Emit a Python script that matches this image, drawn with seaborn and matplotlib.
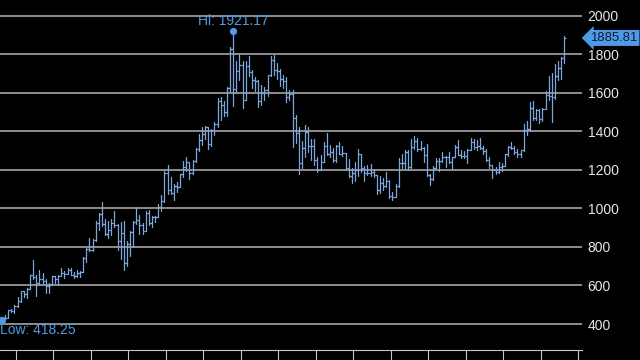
import numpy as np
import pandas as pd
import matplotlib
matplotlib.use("Agg")
import matplotlib.pyplot as plt
import matplotlib.transforms as mtransforms
import seaborn as sns

# Monthly bars, Jul 2005 .. Jul 2020
opens = [435, 429, 433, 473, 470, 495,
         517, 569, 556, 582, 654, 643, 613, 633, 625, 599, 605, 647,
         632, 650, 665, 662, 681, 655, 650, 665, 672, 743, 790, 783,
         834, 923, 972, 917, 865, 886, 926, 913, 833, 871, 718, 814,
         878, 928, 942, 916, 883, 979, 926, 954, 955, 1008, 1040, 1182,
         1096, 1081, 1118, 1113, 1180, 1213, 1244, 1182, 1248, 1307, 1357, 1386,
         1421, 1333, 1410, 1439, 1556, 1536, 1500, 1628, 1826, 1620, 1715, 1746,
         1565, 1740, 1711, 1669, 1664, 1559, 1598, 1615, 1692, 1773, 1719, 1713,
         1675, 1664, 1579, 1597, 1472, 1393, 1234, 1313, 1396, 1327, 1323, 1253,
         1202, 1244, 1326, 1284, 1296, 1250, 1327, 1283, 1287, 1208, 1171, 1183,
         1199, 1283, 1212, 1183, 1183, 1190, 1172, 1095, 1133, 1115, 1142, 1065,
         1061, 1118, 1238, 1234, 1293, 1215, 1322, 1351, 1309, 1316, 1277, 1173,
         1151, 1211, 1249, 1249, 1268, 1269, 1242, 1269, 1322, 1280, 1271, 1275,
         1303, 1345, 1318, 1325, 1315, 1299, 1253, 1224, 1201, 1192, 1215, 1222,
         1282, 1321, 1313, 1292, 1284, 1305, 1409, 1414, 1520, 1472, 1513, 1464,
         1517, 1589, 1585, 1577, 1687, 1728, 1781]
highs = [438, 448, 474, 479, 497, 541,
         572, 574, 585, 654, 730, 655, 680, 663, 632, 612, 647, 650,
         656, 690, 673, 693, 693, 672, 682, 677, 747, 795, 845, 842,
         933, 975, 1034, 947, 937, 943, 988, 920, 929, 934, 830, 885,
         937, 1006, 964, 926, 985, 990, 960, 963, 1025, 1070, 1195, 1227,
         1162, 1127, 1139, 1180, 1249, 1265, 1244, 1251, 1313, 1388, 1424, 1431,
         1424, 1411, 1447, 1575, 1577, 1557, 1632, 1840, 1921.17, 1764, 1803, 1765,
         1764, 1791, 1718, 1681, 1668, 1640, 1633, 1693, 1790, 1796, 1755, 1726,
         1694, 1684, 1617, 1617, 1488, 1425, 1348, 1434, 1424, 1361, 1361, 1267,
         1280, 1345, 1392, 1331, 1315, 1332, 1345, 1323, 1290, 1255, 1208, 1239,
         1307, 1284, 1220, 1224, 1232, 1205, 1175, 1170, 1157, 1191, 1146, 1088,
         1125, 1263, 1283, 1304, 1303, 1362, 1375, 1367, 1352, 1317, 1337, 1180,
         1220, 1264, 1261, 1296, 1271, 1296, 1270, 1331, 1358, 1306, 1299, 1307,
         1366, 1362, 1356, 1366, 1326, 1309, 1265, 1225, 1214, 1243, 1237, 1284,
         1326, 1347, 1324, 1310, 1306, 1439, 1452, 1555, 1557, 1517, 1516, 1524,
         1611, 1689, 1704, 1748, 1765, 1789, 1897]
lows = [418.25, 425, 432, 460, 456, 489,
        516, 538, 537, 581, 636, 543, 605, 610, 561, 560, 603, 613,
        604, 648, 637, 661, 652, 639, 646, 642, 668, 722, 780, 780,
        832, 888, 907, 861, 849, 860, 906, 786, 740, 681, 700, 753,
        801, 919, 867, 866, 882, 913, 905, 929, 954, 989, 1034, 1076,
        1075, 1045, 1088, 1111, 1163, 1195, 1155, 1179, 1242, 1300, 1330, 1360,
        1308, 1327, 1381, 1423, 1462, 1478, 1478, 1606, 1532, 1600, 1669, 1523,
        1563, 1687, 1627, 1612, 1527, 1540, 1564, 1582, 1687, 1692, 1672, 1636,
        1626, 1555, 1562, 1321, 1338, 1180, 1208, 1270, 1292, 1251, 1227, 1187,
        1200, 1239, 1277, 1268, 1240, 1240, 1281, 1273, 1204, 1161, 1131, 1142,
        1167, 1191, 1142, 1175, 1170, 1162, 1077, 1080, 1098, 1110, 1052, 1046,
        1061, 1111, 1208, 1207, 1199, 1208, 1310, 1301, 1303, 1241, 1171, 1123,
        1146, 1208, 1194, 1241, 1214, 1237, 1205, 1267, 1277, 1261, 1264, 1236,
        1302, 1307, 1303, 1310, 1282, 1245, 1211, 1160, 1180, 1182, 1196, 1221,
        1275, 1311, 1281, 1266, 1267, 1301, 1382, 1400, 1459, 1459, 1445, 1454,
        1517, 1563, 1451, 1567, 1670, 1671, 1757]
closes = [429, 433, 473, 470, 495, 517,
          569, 556, 582, 654, 643, 613, 633, 625, 599, 605, 647, 632,
          650, 665, 662, 681, 655, 650, 665, 672, 743, 790, 783, 834,
          923, 972, 917, 865, 886, 926, 913, 833, 871, 718, 814, 878,
          928, 942, 916, 883, 979, 926, 954, 955, 1008, 1040, 1182, 1096,
          1081, 1118, 1113, 1180, 1213, 1244, 1182, 1248, 1307, 1357, 1386, 1421,
          1333, 1410, 1439, 1556, 1536, 1500, 1628, 1826, 1620, 1715, 1746, 1565,
          1740, 1711, 1669, 1664, 1559, 1598, 1615, 1692, 1773, 1719, 1713, 1675,
          1664, 1579, 1597, 1472, 1393, 1234, 1313, 1396, 1327, 1323, 1253, 1202,
          1244, 1326, 1284, 1296, 1250, 1327, 1283, 1287, 1208, 1171, 1183, 1199,
          1283, 1212, 1183, 1183, 1190, 1172, 1095, 1133, 1115, 1142, 1065, 1061,
          1118, 1238, 1234, 1293, 1215, 1322, 1351, 1309, 1316, 1277, 1173, 1151,
          1211, 1249, 1249, 1268, 1269, 1242, 1269, 1322, 1280, 1271, 1275, 1303,
          1345, 1318, 1325, 1315, 1299, 1253, 1224, 1201, 1192, 1215, 1222, 1282,
          1321, 1313, 1292, 1284, 1305, 1409, 1414, 1520, 1472, 1513, 1464, 1517,
          1589, 1585, 1577, 1687, 1728, 1781, 1885.81]
y_ticks = [400, 600, 800, 1000, 1200, 1400, 1600, 1800, 2000]
hi_label = "Hi: 1921.17"
low_label = "Low: 418.25"
last_label = "1885.81"

BAR = "#7da7dd"
ACCENT = "#4d9be6"

sns.set_theme(style="dark")
plt.rcParams["font.family"] = ["Liberation Sans", "DejaVu Sans"]

n = len(closes)
idx = np.arange(n)
df = pd.DataFrame({"x": np.repeat(idx, 2),
                   "y": np.ravel(np.column_stack([highs, lows])),
                   "u": np.repeat(idx, 2)})

fig = plt.figure(figsize=(6.4, 3.6), dpi=100, facecolor="black")
ax = fig.add_axes([0.0, 0.0278, 0.909, 0.9722])
ax.set_facecolor("black")

sns.lineplot(data=df, x="x", y="y", units="u", estimator=None, sort=False,
             color=BAR, lw=0.9, ax=ax, legend=False)
ax.hlines(opens, idx - 0.55, idx, color=BAR, lw=0.9)
ax.hlines(closes, idx, idx + 0.55, color=BAR, lw=0.9)

ax.set_xlim(-0.64, 185.6)
ax.set_ylim(265, 2083)
ax.set_xlabel("")
ax.set_ylabel("")

ax.set_yticks(y_ticks)
ax.set_yticklabels([str(v) for v in y_ticks])
ax.yaxis.tick_right()
ax.tick_params(axis="y", length=0, pad=4.3, labelsize=10, labelcolor="#e6e6e6")
ax.grid(axis="y", color="#b4b4b4", lw=1.1)
ax.grid(axis="x", visible=False)

xt = [4.48 + 12 * k for k in range(16)]
ax.set_xticks(xt)
ax.set_xticklabels([])
ax.tick_params(axis="x", bottom=True, direction="out", length=7.5, width=0.8,
               color="#c8c8c8")

for s in ["top", "left", "right"]:
    ax.spines[s].set_visible(False)
ax.spines["bottom"].set_color("#c8c8c8")
ax.spines["bottom"].set_linewidth(0.8)

# high / low markers
hi_i = int(np.argmax(highs))
lo_i = int(np.argmin(lows))
ax.plot([hi_i], [highs[hi_i]], "o", color=ACCENT, ms=4.2, clip_on=False)
ax.plot([lo_i], [lows[lo_i]], "o", color=ACCENT, ms=4.2, clip_on=False)
ax.annotate(hi_label, (hi_i, highs[hi_i]), xytext=(0, 2.5), textcoords="offset points",
            ha="center", va="bottom", color=ACCENT, fontsize=10)
ax.annotate(low_label, (lo_i, lows[lo_i]), xytext=(-1.5, -2), textcoords="offset points",
            ha="left", va="top", color=ACCENT, fontsize=10)

# last price tag
trans = mtransforms.blended_transform_factory(ax.transAxes, ax.transData)
ax.text(1.0 + 8.5 / 582, closes[-1], last_label, transform=trans, ha="left", va="center",
        fontsize=9.4, color="#0b1b33",
        bbox=dict(boxstyle="larrow,pad=0.15", fc=ACCENT, ec="none"), clip_on=False)

fig.savefig("out.png", dpi=100, facecolor="black")
